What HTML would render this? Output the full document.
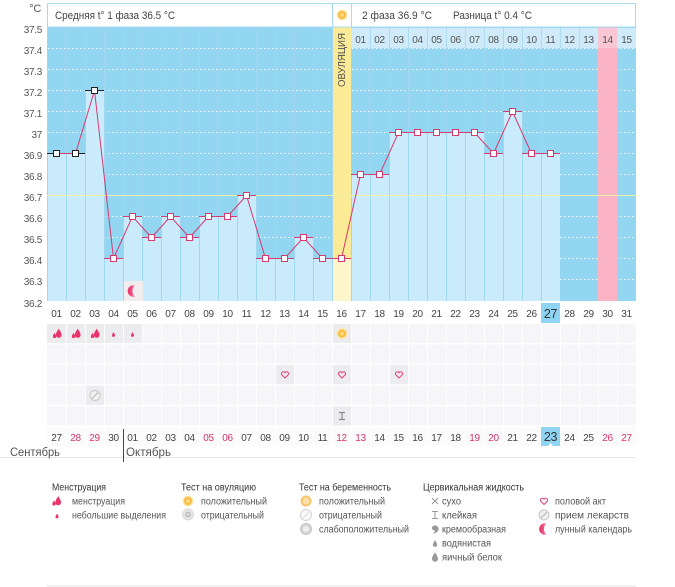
<!DOCTYPE html>
<html><head><meta charset="utf-8"><style>
html,body{margin:0;padding:0;background:#fff;width:675px;height:587px;overflow:hidden}
svg{display:block}
text{font-family:"Liberation Sans","DejaVu Sans",sans-serif}
</style></head><body>
<svg width="675" height="587" viewBox="0 0 675 587" xmlns="http://www.w3.org/2000/svg">
<defs>
<linearGradient id="mg" x1="0" y1="0" x2="1" y2="0">
<stop offset="0" stop-color="#e02d62"/><stop offset="0.6" stop-color="#ee5a86"/><stop offset="1" stop-color="#f7a9c0"/>
</linearGradient>
</defs>
<!-- y axis labels -->
<g font-size="10" fill="#555" text-anchor="end" letter-spacing="-0.3">
<text x="41" y="12" font-size="11" text-anchor="end">°C</text>
<text x="42" y="33">37.5</text>
<text x="42" y="54">37.4</text>
<text x="42" y="75">37.3</text>
<text x="42" y="96">37.2</text>
<text x="42" y="117">37.1</text>
<text x="42" y="138">37</text>
<text x="42" y="159">36.9</text>
<text x="42" y="180">36.8</text>
<text x="42" y="201">36.7</text>
<text x="42" y="222">36.6</text>
<text x="42" y="243">36.5</text>
<text x="42" y="264">36.4</text>
<text x="42" y="285">36.3</text>
<text x="42" y="307">36.2</text>
</g>

<!-- chart background -->
<rect x="47" y="27" width="589" height="274" fill="#93d6f2"/>
<!-- dotted grid -->
<g stroke="#ffffff" stroke-width="1" stroke-dasharray="1.5 2.5" stroke-opacity="0.9">
<line x1="48" y1="48.5" x2="636" y2="48.5"/>
<line x1="48" y1="69.5" x2="636" y2="69.5"/>
<line x1="48" y1="90.5" x2="636" y2="90.5"/>
<line x1="48" y1="111.5" x2="636" y2="111.5"/>
<line x1="48" y1="132.5" x2="636" y2="132.5"/>
<line x1="48" y1="153.5" x2="636" y2="153.5"/>
<line x1="48" y1="174.5" x2="636" y2="174.5"/>
<line x1="48" y1="216.5" x2="636" y2="216.5"/>
<line x1="48" y1="237.5" x2="636" y2="237.5"/>
<line x1="48" y1="258.5" x2="636" y2="258.5"/>
<line x1="48" y1="279.5" x2="636" y2="279.5"/>
</g>
<!-- column separators -->
<g stroke="#a0d6ee" stroke-width="1">
<line x1="47.5" y1="27" x2="47.5" y2="301"/><line x1="66.5" y1="27" x2="66.5" y2="301"/><line x1="85.5" y1="27" x2="85.5" y2="301"/><line x1="104.5" y1="27" x2="104.5" y2="301"/><line x1="123.5" y1="27" x2="123.5" y2="301"/><line x1="142.5" y1="27" x2="142.5" y2="301"/><line x1="161.5" y1="27" x2="161.5" y2="301"/><line x1="180.5" y1="27" x2="180.5" y2="301"/><line x1="199.5" y1="27" x2="199.5" y2="301"/><line x1="218.5" y1="27" x2="218.5" y2="301"/><line x1="237.5" y1="27" x2="237.5" y2="301"/><line x1="256.5" y1="27" x2="256.5" y2="301"/><line x1="275.5" y1="27" x2="275.5" y2="301"/><line x1="294.5" y1="27" x2="294.5" y2="301"/><line x1="313.5" y1="27" x2="313.5" y2="301"/><line x1="332.5" y1="27" x2="332.5" y2="301"/><line x1="351.5" y1="27" x2="351.5" y2="301"/><line x1="370.5" y1="27" x2="370.5" y2="301"/><line x1="389.5" y1="27" x2="389.5" y2="301"/><line x1="408.5" y1="27" x2="408.5" y2="301"/><line x1="427.5" y1="27" x2="427.5" y2="301"/><line x1="446.5" y1="27" x2="446.5" y2="301"/><line x1="465.5" y1="27" x2="465.5" y2="301"/><line x1="484.5" y1="27" x2="484.5" y2="301"/><line x1="503.5" y1="27" x2="503.5" y2="301"/><line x1="522.5" y1="27" x2="522.5" y2="301"/><line x1="541.5" y1="27" x2="541.5" y2="301"/>
</g>
<!-- bars -->
<g fill="#c9ebfb">
<rect x="48" y="153" width="18" height="148"/>
<rect x="67" y="153" width="18" height="148"/>
<rect x="86" y="90" width="18" height="211"/>
<rect x="105" y="258" width="18" height="43"/>
<rect x="124" y="216" width="18" height="85"/>
<rect x="143" y="237" width="18" height="64"/>
<rect x="162" y="216" width="18" height="85"/>
<rect x="181" y="237" width="18" height="64"/>
<rect x="200" y="216" width="18" height="85"/>
<rect x="219" y="216" width="18" height="85"/>
<rect x="238" y="195" width="18" height="106"/>
<rect x="257" y="258" width="18" height="43"/>
<rect x="276" y="258" width="18" height="43"/>
<rect x="295" y="237" width="18" height="64"/>
<rect x="314" y="258" width="18" height="43"/>
<rect x="352" y="174" width="18" height="127"/>
<rect x="371" y="174" width="18" height="127"/>
<rect x="390" y="132" width="18" height="169"/>
<rect x="409" y="132" width="18" height="169"/>
<rect x="428" y="132" width="18" height="169"/>
<rect x="447" y="132" width="18" height="169"/>
<rect x="466" y="132" width="18" height="169"/>
<rect x="485" y="153" width="18" height="148"/>
<rect x="504" y="111" width="18" height="190"/>
<rect x="523" y="153" width="18" height="148"/>
<rect x="542" y="153" width="18" height="148"/>
</g>
<!-- ovulation column -->
<rect x="333" y="27" width="18" height="274" fill="#fbeb97"/>
<rect x="333" y="258" width="18" height="43" fill="#fdf5cc"/>
<!-- pink column -->
<rect x="598" y="27" width="19" height="274" fill="#fbb3c6"/>
<!-- header band days 17-31 -->
<rect x="351" y="28" width="285" height="20" fill="#cfeaf8"/>
<rect x="598" y="28" width="19" height="20" fill="#f9c6d4"/>
<g stroke="#aedbef" stroke-width="1">
<line x1="370.5" y1="28" x2="370.5" y2="48"/><line x1="389.5" y1="28" x2="389.5" y2="48"/><line x1="408.5" y1="28" x2="408.5" y2="48"/><line x1="427.5" y1="28" x2="427.5" y2="48"/><line x1="446.5" y1="28" x2="446.5" y2="48"/><line x1="465.5" y1="28" x2="465.5" y2="48"/><line x1="484.5" y1="28" x2="484.5" y2="48"/><line x1="503.5" y1="28" x2="503.5" y2="48"/><line x1="522.5" y1="28" x2="522.5" y2="48"/><line x1="541.5" y1="28" x2="541.5" y2="48"/><line x1="560.5" y1="28" x2="560.5" y2="48"/><line x1="579.5" y1="28" x2="579.5" y2="48"/>
</g>
<g font-size="10" fill="#555" text-anchor="middle" letter-spacing="-0.3">
<text x="360.5" y="43">01</text><text x="379.5" y="43">02</text><text x="398.5" y="43">03</text><text x="417.5" y="43">04</text><text x="436.5" y="43">05</text><text x="455.5" y="43">06</text><text x="474.5" y="43">07</text><text x="493.5" y="43">08</text><text x="512.5" y="43">09</text><text x="531.5" y="43">10</text><text x="550.5" y="43">11</text><text x="569.5" y="43">12</text><text x="588.5" y="43">13</text><text x="607.5" y="43">14</text><text x="626.5" y="43">15</text>
</g>
<!-- ovulation vertical text -->
<text transform="translate(345,60) rotate(-90)" font-size="10" fill="#555" text-anchor="middle" textLength="54" lengthAdjust="spacingAndGlyphs">ОВУЛЯЦИЯ</text>

<!-- 36.7 line -->
<line x1="47" y1="195.5" x2="636" y2="195.5" stroke="#f2f0a4" stroke-width="1"/>

<!-- bar tops -->
<g stroke="#222" stroke-width="1">
<line x1="47" y1="153.5" x2="66" y2="153.5"/>
<line x1="66" y1="153.5" x2="85" y2="153.5"/>
<line x1="85" y1="90.5" x2="104" y2="90.5"/>
</g>
<g stroke="#d63a6e" stroke-width="1">
<line x1="104" y1="258.5" x2="123" y2="258.5"/>
<line x1="123" y1="216.5" x2="142" y2="216.5"/>
<line x1="142" y1="237.5" x2="161" y2="237.5"/>
<line x1="161" y1="216.5" x2="180" y2="216.5"/>
<line x1="180" y1="237.5" x2="199" y2="237.5"/>
<line x1="199" y1="216.5" x2="218" y2="216.5"/>
<line x1="218" y1="216.5" x2="237" y2="216.5"/>
<line x1="237" y1="195.5" x2="256" y2="195.5"/>
<line x1="256" y1="258.5" x2="275" y2="258.5"/>
<line x1="275" y1="258.5" x2="294" y2="258.5"/>
<line x1="294" y1="237.5" x2="313" y2="237.5"/>
<line x1="313" y1="258.5" x2="332" y2="258.5"/>
<line x1="332" y1="258.5" x2="351" y2="258.5"/>
<line x1="351" y1="174.5" x2="370" y2="174.5"/>
<line x1="370" y1="174.5" x2="389" y2="174.5"/>
<line x1="389" y1="132.5" x2="408" y2="132.5"/>
<line x1="408" y1="132.5" x2="427" y2="132.5"/>
<line x1="427" y1="132.5" x2="446" y2="132.5"/>
<line x1="446" y1="132.5" x2="465" y2="132.5"/>
<line x1="465" y1="132.5" x2="484" y2="132.5"/>
<line x1="484" y1="153.5" x2="503" y2="153.5"/>
<line x1="503" y1="111.5" x2="522" y2="111.5"/>
<line x1="522" y1="153.5" x2="541" y2="153.5"/>
<line x1="541" y1="153.5" x2="560" y2="153.5"/>
</g>
<!-- polyline -->
<polyline fill="none" stroke="#d63a6e" stroke-width="1" points="56.5,153.5 75.5,153.5 94.5,90.5 113.5,258.5 132.5,216.5 151.5,237.5 170.5,216.5 189.5,237.5 208.5,216.5 227.5,216.5 246.5,195.5 265.5,258.5 284.5,258.5 303.5,237.5 322.5,258.5 341.5,258.5 360.5,174.5 379.5,174.5 398.5,132.5 417.5,132.5 436.5,132.5 455.5,132.5 474.5,132.5 493.5,153.5 512.5,111.5 531.5,153.5 550.5,153.5"/>
<!-- markers -->
<g fill="#fff" stroke="#222" stroke-width="1">
<rect x="53.5" y="150.5" width="6" height="6"/>
<rect x="72.5" y="150.5" width="6" height="6"/>
<rect x="91.5" y="87.5" width="6" height="6"/>
</g>
<g fill="#fff" stroke="#d63a6e" stroke-width="1">
<rect x="110.5" y="255.5" width="6" height="6"/>
<rect x="129.5" y="213.5" width="6" height="6"/>
<rect x="148.5" y="234.5" width="6" height="6"/>
<rect x="167.5" y="213.5" width="6" height="6"/>
<rect x="186.5" y="234.5" width="6" height="6"/>
<rect x="205.5" y="213.5" width="6" height="6"/>
<rect x="224.5" y="213.5" width="6" height="6"/>
<rect x="243.5" y="192.5" width="6" height="6"/>
<rect x="262.5" y="255.5" width="6" height="6"/>
<rect x="281.5" y="255.5" width="6" height="6"/>
<rect x="300.5" y="234.5" width="6" height="6"/>
<rect x="319.5" y="255.5" width="6" height="6"/>
<rect x="338.5" y="255.5" width="6" height="6"/>
<rect x="357.5" y="171.5" width="6" height="6"/>
<rect x="376.5" y="171.5" width="6" height="6"/>
<rect x="395.5" y="129.5" width="6" height="6"/>
<rect x="414.5" y="129.5" width="6" height="6"/>
<rect x="433.5" y="129.5" width="6" height="6"/>
<rect x="452.5" y="129.5" width="6" height="6"/>
<rect x="471.5" y="129.5" width="6" height="6"/>
<rect x="490.5" y="150.5" width="6" height="6"/>
<rect x="509.5" y="108.5" width="6" height="6"/>
<rect x="528.5" y="150.5" width="6" height="6"/>
<rect x="547.5" y="150.5" width="6" height="6"/>
</g>
<!-- moon cell in chart -->
<rect x="124" y="281" width="19" height="20" fill="#f1ecee"/>
<path transform="translate(133.5,291)" d="M1.5,-5.6 A5.8,5.8 0 1 0 1.5,5.6 A7.5,7.5 0 0 1 1.5,-5.6Z" fill="url(#mg)"/>

<!-- header box -->
<rect x="47.5" y="3.5" width="588" height="23.5" fill="#fff" stroke="#a8dbf0" stroke-width="1"/>
<line x1="332.5" y1="3.5" x2="332.5" y2="27" stroke="#a8dbf0"/>
<line x1="351.5" y1="3.5" x2="351.5" y2="27" stroke="#a8dbf0"/>
<text x="55" y="19" font-size="11" fill="#444" textLength="120" lengthAdjust="spacingAndGlyphs">Средняя t° 1 фаза 36.5 °C</text>
<text x="362" y="19" font-size="11" fill="#444" textLength="70" lengthAdjust="spacingAndGlyphs">2 фаза 36.9 °C</text>
<text x="453" y="19" font-size="11" fill="#444" textLength="79" lengthAdjust="spacingAndGlyphs">Разница t° 0.4 °C</text>
<g transform="translate(342,15)">
<circle r="5.5" fill="#fde7a8"/><circle r="4" fill="#f8bb45"/><circle r="2" fill="#fcd97a"/>
</g>

<!-- day numbers row -->
<rect x="541" y="303" width="19" height="20" fill="#8fd4f2"/>
<g font-size="10" fill="#444" text-anchor="middle" letter-spacing="-0.3">
<text x="56.5" y="317">01</text><text x="75.5" y="317">02</text><text x="94.5" y="317">03</text><text x="113.5" y="317">04</text><text x="132.5" y="317">05</text><text x="151.5" y="317">06</text><text x="170.5" y="317">07</text><text x="189.5" y="317">08</text><text x="208.5" y="317">09</text><text x="227.5" y="317">10</text><text x="246.5" y="317">11</text><text x="265.5" y="317">12</text><text x="284.5" y="317">13</text><text x="303.5" y="317">14</text><text x="322.5" y="317">15</text><text x="341.5" y="317">16</text><text x="360.5" y="317">17</text><text x="379.5" y="317">18</text><text x="398.5" y="317">19</text><text x="417.5" y="317">20</text><text x="436.5" y="317">21</text><text x="455.5" y="317">22</text><text x="474.5" y="317">23</text><text x="493.5" y="317">24</text><text x="512.5" y="317">25</text><text x="531.5" y="317">26</text><text x="550.5" y="318" font-size="12.5" fill="#333">27</text><text x="569.5" y="317">28</text><text x="588.5" y="317">29</text><text x="607.5" y="317">30</text><text x="626.5" y="317">31</text>
</g>

<!-- icon rows background -->
<g fill="#f6f6f8">
<rect x="47" y="324" width="589" height="19"/>
<rect x="47" y="344.6" width="589" height="19"/>
<rect x="47" y="365.2" width="589" height="19"/>
<rect x="47" y="385.8" width="589" height="19"/>
<rect x="47" y="406.4" width="589" height="19"/>
<rect x="47" y="427" width="589" height="19" fill="#fbfbfb"/>
</g>
<g stroke="#ffffff" stroke-width="1">
<line x1="66.5" y1="324" x2="66.5" y2="446"/><line x1="85.5" y1="324" x2="85.5" y2="446"/><line x1="104.5" y1="324" x2="104.5" y2="446"/><line x1="123.5" y1="324" x2="123.5" y2="446"/><line x1="142.5" y1="324" x2="142.5" y2="446"/><line x1="161.5" y1="324" x2="161.5" y2="446"/><line x1="180.5" y1="324" x2="180.5" y2="446"/><line x1="199.5" y1="324" x2="199.5" y2="446"/><line x1="218.5" y1="324" x2="218.5" y2="446"/><line x1="237.5" y1="324" x2="237.5" y2="446"/><line x1="256.5" y1="324" x2="256.5" y2="446"/><line x1="275.5" y1="324" x2="275.5" y2="446"/><line x1="294.5" y1="324" x2="294.5" y2="446"/><line x1="313.5" y1="324" x2="313.5" y2="446"/><line x1="332.5" y1="324" x2="332.5" y2="446"/><line x1="351.5" y1="324" x2="351.5" y2="446"/><line x1="370.5" y1="324" x2="370.5" y2="446"/><line x1="389.5" y1="324" x2="389.5" y2="446"/><line x1="408.5" y1="324" x2="408.5" y2="446"/><line x1="427.5" y1="324" x2="427.5" y2="446"/><line x1="446.5" y1="324" x2="446.5" y2="446"/><line x1="465.5" y1="324" x2="465.5" y2="446"/><line x1="484.5" y1="324" x2="484.5" y2="446"/><line x1="503.5" y1="324" x2="503.5" y2="446"/><line x1="522.5" y1="324" x2="522.5" y2="446"/><line x1="541.5" y1="324" x2="541.5" y2="446"/><line x1="560.5" y1="324" x2="560.5" y2="446"/><line x1="579.5" y1="324" x2="579.5" y2="446"/><line x1="598.5" y1="324" x2="598.5" y2="446"/><line x1="617.5" y1="324" x2="617.5" y2="446"/>
</g>
<!-- filled cells -->
<g fill="#ececee">
<rect x="47" y="324" width="19" height="19"/><rect x="67" y="324" width="18" height="19"/><rect x="86" y="324" width="18" height="19"/><rect x="105" y="324" width="18" height="19"/><rect x="124" y="324" width="18" height="19"/><rect x="333" y="324" width="18" height="19"/>
<rect x="276" y="365.2" width="18" height="19"/><rect x="333" y="365.2" width="18" height="19"/><rect x="390" y="365.2" width="18" height="19"/>
<rect x="86" y="385.8" width="18" height="19"/>
<rect x="333" y="406.4" width="18" height="19"/>
</g>
<!-- menstruation drops -->
<g fill="#e8336b">
<g transform="translate(57.5,333.5)"><path transform="translate(1.2,-0.3) scale(1.15)" d="M0,-4 C1.5,-1.5 2.5,0 2.5,1.5 A2.5,2.5 0 0 1 -2.5,1.5 C-2.5,0 -1.5,-1.5 0,-4Z"/><path transform="translate(-3,2) scale(0.65)" d="M0,-4 C1.5,-1.5 2.5,0 2.5,1.5 A2.5,2.5 0 0 1 -2.5,1.5 C-2.5,0 -1.5,-1.5 0,-4Z"/></g>
<g transform="translate(76.5,333.5)"><path transform="translate(1.2,-0.3) scale(1.15)" d="M0,-4 C1.5,-1.5 2.5,0 2.5,1.5 A2.5,2.5 0 0 1 -2.5,1.5 C-2.5,0 -1.5,-1.5 0,-4Z"/><path transform="translate(-3,2) scale(0.65)" d="M0,-4 C1.5,-1.5 2.5,0 2.5,1.5 A2.5,2.5 0 0 1 -2.5,1.5 C-2.5,0 -1.5,-1.5 0,-4Z"/></g>
<g transform="translate(95.5,333.5)"><path transform="translate(1.2,-0.3) scale(1.15)" d="M0,-4 C1.5,-1.5 2.5,0 2.5,1.5 A2.5,2.5 0 0 1 -2.5,1.5 C-2.5,0 -1.5,-1.5 0,-4Z"/><path transform="translate(-3,2) scale(0.65)" d="M0,-4 C1.5,-1.5 2.5,0 2.5,1.5 A2.5,2.5 0 0 1 -2.5,1.5 C-2.5,0 -1.5,-1.5 0,-4Z"/></g>
<path transform="translate(113.5,334.5) scale(0.6)" d="M0,-4 C1.5,-1.5 2.5,0 2.5,1.5 A2.5,2.5 0 0 1 -2.5,1.5 C-2.5,0 -1.5,-1.5 0,-4Z"/>
<path transform="translate(132.5,334.5) scale(0.6)" d="M0,-4 C1.5,-1.5 2.5,0 2.5,1.5 A2.5,2.5 0 0 1 -2.5,1.5 C-2.5,0 -1.5,-1.5 0,-4Z"/>
</g>
<!-- ovulation test sun -->
<g transform="translate(342,333.5)"><circle r="5.5" fill="#fde7a8"/><circle r="4" fill="#f8bb45"/><circle r="2" fill="#fcd97a"/></g>
<!-- hearts -->
<g fill="none" stroke="#e04a7a" stroke-width="1.1">
<path transform="translate(285,375)" d="M0,3 L-3.3,-0.3 A1.7,1.7 0 0 1 0,-2.3 A1.7,1.7 0 0 1 3.3,-0.3 Z"/>
<path transform="translate(342,375)" d="M0,3 L-3.3,-0.3 A1.7,1.7 0 0 1 0,-2.3 A1.7,1.7 0 0 1 3.3,-0.3 Z"/>
<path transform="translate(399,375)" d="M0,3 L-3.3,-0.3 A1.7,1.7 0 0 1 0,-2.3 A1.7,1.7 0 0 1 3.3,-0.3 Z"/>
</g>
<!-- pill -->
<g transform="translate(95,395.5)"><circle r="5" fill="#f2f2f2" stroke="#c8c8c8" stroke-width="1"/><line x1="-3" y1="3" x2="3" y2="-3" stroke="#b5b5b5" stroke-width="1"/></g>
<!-- sticky I -->
<g transform="translate(342,416)" stroke="#8a8a8a" stroke-width="1.2" fill="none"><path d="M-3,-3.5 H3 M0,-3.5 V3.5 M-3,3.5 H3"/></g>

<!-- date row -->
<rect x="541" y="427" width="19" height="19" fill="#8fd4f2"/>
<path d="M548,446 L550.5,443 L553,446Z" fill="#fff"/>
<g font-size="10" fill="#444" text-anchor="middle" letter-spacing="-0.3">
<text x="56.5" y="441">27</text><text x="75.5" y="441" fill="#d6336c">28</text><text x="94.5" y="441" fill="#d6336c">29</text><text x="113.5" y="441">30</text><text x="132.5" y="441">01</text><text x="151.5" y="441">02</text><text x="170.5" y="441">03</text><text x="189.5" y="441">04</text><text x="208.5" y="441" fill="#d6336c">05</text><text x="227.5" y="441" fill="#d6336c">06</text><text x="246.5" y="441">07</text><text x="265.5" y="441">08</text><text x="284.5" y="441">09</text><text x="303.5" y="441">10</text><text x="322.5" y="441">11</text><text x="341.5" y="441" fill="#d6336c">12</text><text x="360.5" y="441" fill="#d6336c">13</text><text x="379.5" y="441">14</text><text x="398.5" y="441">15</text><text x="417.5" y="441">16</text><text x="436.5" y="441">17</text><text x="455.5" y="441">18</text><text x="474.5" y="441" fill="#d6336c">19</text><text x="493.5" y="441" fill="#d6336c">20</text><text x="512.5" y="441">21</text><text x="531.5" y="441">22</text><text x="550.5" y="441" font-size="12.5" fill="#333">23</text><text x="569.5" y="441">24</text><text x="588.5" y="441">25</text><text x="607.5" y="441" fill="#d6336c">26</text><text x="626.5" y="441" fill="#d6336c">27</text>
</g>
<!-- months -->
<line x1="0" y1="457.5" x2="636" y2="457.5" stroke="#e6e6e6"/>
<line x1="123.5" y1="429" x2="123.5" y2="462" stroke="#444"/>
<text x="10" y="456" font-size="12" fill="#555" textLength="50" lengthAdjust="spacingAndGlyphs">Сентябрь</text>
<text x="126" y="456" font-size="12" fill="#555" textLength="45" lengthAdjust="spacingAndGlyphs">Октябрь</text>

<!-- legend -->
<g font-size="10" fill="#333">
<text x="52" y="490.5" textLength="54" lengthAdjust="spacingAndGlyphs">Менструация</text>
<text x="181" y="490.5" textLength="75" lengthAdjust="spacingAndGlyphs">Тест на овуляцию</text>
<text x="299" y="490.5" textLength="92" lengthAdjust="spacingAndGlyphs">Тест на беременность</text>
<text x="423" y="490.5" textLength="101" lengthAdjust="spacingAndGlyphs">Цервикальная жидкость</text>
</g>
<g font-size="10" fill="#555">
<text x="72" y="504.5" textLength="53" lengthAdjust="spacingAndGlyphs">менструация</text>
<text x="72" y="518.5" textLength="94" lengthAdjust="spacingAndGlyphs">небольшие выделения</text>
<text x="201" y="504.5" textLength="66" lengthAdjust="spacingAndGlyphs">положительный</text>
<text x="201" y="518.5" textLength="63" lengthAdjust="spacingAndGlyphs">отрицательный</text>
<text x="319" y="504.5" textLength="66" lengthAdjust="spacingAndGlyphs">положительный</text>
<text x="319" y="518.5" textLength="63" lengthAdjust="spacingAndGlyphs">отрицательный</text>
<text x="319" y="532.5" textLength="90" lengthAdjust="spacingAndGlyphs">слабоположительный</text>
<text x="442" y="504.5" textLength="19" lengthAdjust="spacingAndGlyphs">сухо</text>
<text x="442" y="518.5" textLength="35" lengthAdjust="spacingAndGlyphs">клейкая</text>
<text x="442" y="532.5" textLength="64" lengthAdjust="spacingAndGlyphs">кремообразная</text>
<text x="442" y="546.5" textLength="49" lengthAdjust="spacingAndGlyphs">водянистая</text>
<text x="442" y="560.5" textLength="60" lengthAdjust="spacingAndGlyphs">яичный белок</text>
<text x="555" y="504.5" textLength="51" lengthAdjust="spacingAndGlyphs">половой акт</text>
<text x="555" y="518.5" textLength="74" lengthAdjust="spacingAndGlyphs">прием лекарств</text>
<text x="555" y="532.5" textLength="77" lengthAdjust="spacingAndGlyphs">лунный календарь</text>
</g>
<!-- legend icons -->
<g fill="#e8336b">
<g transform="translate(57,501)"><path transform="translate(1.2,-0.3) scale(1.15)" d="M0,-4 C1.5,-1.5 2.5,0 2.5,1.5 A2.5,2.5 0 0 1 -2.5,1.5 C-2.5,0 -1.5,-1.5 0,-4Z"/><path transform="translate(-3,2) scale(0.65)" d="M0,-4 C1.5,-1.5 2.5,0 2.5,1.5 A2.5,2.5 0 0 1 -2.5,1.5 C-2.5,0 -1.5,-1.5 0,-4Z"/></g>
<path transform="translate(57,516) scale(0.6)" d="M0,-4 C1.5,-1.5 2.5,0 2.5,1.5 A2.5,2.5 0 0 1 -2.5,1.5 C-2.5,0 -1.5,-1.5 0,-4Z"/>
</g>
<g transform="translate(188,501)"><circle r="5.5" fill="#fde7a8"/><circle r="4" fill="#f8bb45"/><circle r="2" fill="#fcd97a"/></g>
<g transform="translate(188,514.5)"><circle r="5.5" fill="#e8e8e8" stroke="#d0d0d0" stroke-width="0.8"/><circle r="3" fill="#bdbdbd"/><circle r="1.3" fill="#e6e6e6"/></g>
<g transform="translate(306,501)"><circle r="5.5" fill="#f9c469"/><circle r="3.5" fill="#fbe0a8"/></g>
<g transform="translate(306,515)"><circle r="5.5" fill="#fafafa" stroke="#c8c8c8" stroke-width="0.8"/><line x1="-3" y1="3" x2="3" y2="-3" stroke="#ddd"/></g>
<g transform="translate(306,529)"><circle r="5.5" fill="#d5d5d5" stroke="#bbb" stroke-width="0.8"/><circle r="3" fill="#ededed"/></g>
<g stroke="#999" stroke-width="1" fill="none">
<path d="M432,498 L438,504 M438,498 L432,504"/>
<path d="M432,511.5 H438 M435,511.5 V518.5 M432,518.5 H438"/>
</g>
<g fill="#999">
<path d="M433,526 A3.5,3.5 0 1 1 437,532 C436,533 434,533.5 433,533 C435,532 435.5,531 434.5,530.5 A2.5,2.5 0 0 1 433,526Z"/>
<path transform="translate(435,543.5) scale(0.85)" d="M0,-4 C1.5,-1.5 2.5,0 2.5,1.5 A2.5,2.5 0 0 1 -2.5,1.5 C-2.5,0 -1.5,-1.5 0,-4Z"/>
<path transform="translate(435,557) scale(1.2)" d="M0,-4 C1.5,-1.5 2.5,0 2.5,1.5 A2.5,2.5 0 0 1 -2.5,1.5 C-2.5,0 -1.5,-1.5 0,-4Z"/>
</g>
<path transform="translate(544,501.5)" d="M0,3 L-3.3,-0.3 A1.7,1.7 0 0 1 0,-2.3 A1.7,1.7 0 0 1 3.3,-0.3 Z" fill="none" stroke="#e04a7a" stroke-width="1.1"/>
<g transform="translate(544,515)"><circle r="5" fill="#f0f0f0" stroke="#c8c8c8" stroke-width="1"/><line x1="-3" y1="3" x2="3" y2="-3" stroke="#b5b5b5" stroke-width="1"/></g>
<path transform="translate(545,529)" d="M1.5,-5.6 A5.8,5.8 0 1 0 1.5,5.6 A7.5,7.5 0 0 1 1.5,-5.6Z" fill="url(#mg)"/>

<line x1="47" y1="586" x2="636" y2="586" stroke="#e6e6e6"/>
</svg>
</body></html>
